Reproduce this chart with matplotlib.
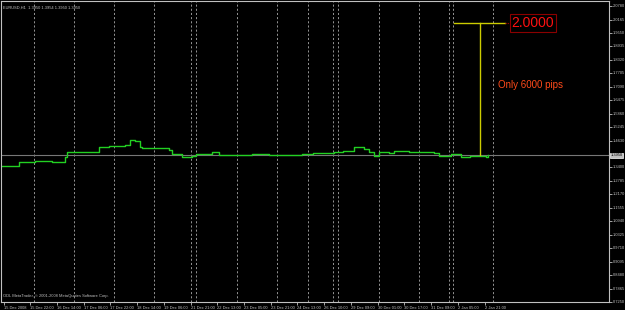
import matplotlib
matplotlib.use('Agg')
import matplotlib.pyplot as plt

# EURUSD H1 closes (bar index, price)
bars = [0, 6, 10, 20, 26, 30, 38, 39, 48, 56, 58, 64, 74, 77, 80, 83, 84, 96, 100,
        102, 108, 114, 116, 126, 130, 140, 150, 160, 180, 186, 199, 204, 211, 217,
        220, 223, 226, 232, 235, 244, 250, 259, 262, 269, 275, 280, 286, 290, 291]
prices = [1.3468, 1.3468, 1.3651, 1.3697, 1.3697, 1.3651, 1.3880, 1.4109, 1.4109,
          1.4109, 1.4337, 1.4383, 1.4429, 1.4658, 1.4612, 1.4337, 1.4292, 1.4292,
          1.4200, 1.4017, 1.3880, 1.3926, 1.4017, 1.4109, 1.3971, 1.3971, 1.4017,
          1.3971, 1.4017, 1.4063, 1.4109, 1.4154, 1.4337, 1.4246, 1.4109, 1.3926,
          1.4109, 1.4063, 1.4154, 1.4109, 1.4109, 1.4063, 1.3926, 1.4017, 1.3880,
          1.3926, 1.3926, 1.3880, 1.3950]

bid = 1.3950
target = 2.0000

day_separators = [19, 43, 67, 91, 113, 116, 141, 165, 183, 198, 201, 226, 250, 268, 270, 294]

time_ticks = [1, 17, 33, 49, 65, 81, 97, 113, 129, 145, 161, 177, 193, 209, 225, 241, 257, 273, 289]
time_labels = ['15 Dec 2008', '15 Dec 22:00', '16 Dec 14:00', '17 Dec 06:00', '17 Dec 22:00',
               '18 Dec 14:00', '19 Dec 06:00', '21 Dec 21:00', '22 Dec 13:00', '23 Dec 05:00',
               '23 Dec 21:00', '24 Dec 13:00', '26 Dec 10:00', '29 Dec 09:00', '30 Dec 01:00',
               '30 Dec 17:00', '31 Dec 09:00', '2 Jan 05:00', '2 Jan 21:00']

price_ticks = [round(0.7250 + 0.0615 * k, 4) for k in range(23)]
price_ticks = [p for p in price_ticks if abs(p - bid) > 0.02]

plt.rcParams['font.family'] = ['Liberation Sans', 'DejaVu Sans']
fg = '#c0c0c0'
small = 2.9

fig = plt.figure(figsize=(6.25, 3.1), dpi=100, facecolor='black')
ax = fig.add_axes([1 / 625, 1 - 302 / 310, 608 / 625, 301 / 310], facecolor='black')
ax.set_xlim(-0.5, 363.5)
ax.set_ylim(0.7250, 2.1012)

for s in ax.spines.values():
    s.set_color(fg)
    s.set_linewidth(0.8)

# day separators
for b in day_separators:
    ax.axvline(b, color='#aaaaaa', lw=0.6, ls=(0, (2.5, 2.5)))

# bid line
ax.axhline(bid, color='#777777', lw=0.8)

# price
ax.plot(bars, prices, color='#22d022', lw=1.0, drawstyle='steps-post')

# target drawing
ax.plot([271, 301], [target, target], color='#cccc00', lw=1)
ax.plot([286, 286], [target, bid], color='#cccc00', lw=1)
ax.plot([301, 304], [target, target], color='#aa0000', lw=0.8, ls=(0, (1, 1)))
ax.text(305, target, '2.0000', color='#ff1010', fontsize=10, va='center', ha='left',
        bbox=dict(boxstyle='square,pad=0.12', fc='black', ec='#8b0000', lw=0.8))
ax.text(297, 1.717, 'Only 6000 pips', color='#ff4a1a', fontsize=7, va='center', ha='left')

# axes ticks
ax.yaxis.tick_right()
ax.set_yticks(price_ticks)
ax.set_yticklabels(['%.4f' % p for p in price_ticks])
ax.set_xticks(time_ticks)
ax.set_xticklabels(time_labels, ha='left')
ax.tick_params(colors=fg, labelsize=small, length=2, width=0.6, pad=0.8)
for lab in ax.get_yticklabels():
    lab.set_va('center')

# current price label
ax.text(1.0025, bid, '%.4f' % bid, transform=ax.get_yaxis_transform(), fontsize=small,
        color='black', va='center', ha='left',
        bbox=dict(boxstyle='square,pad=0.15', fc=fg, ec='white', lw=0.5))

ax.text(0.004, 0.985, 'EURUSD,H1  1.3950 1.3954 1.3950 1.3950', transform=ax.transAxes,
        color=fg, fontsize=small, va='top', ha='left')
ax.text(0.004, 0.012, 'ODL MetaTrader, \u00a9 2001-2008 MetaQuotes Software Corp.',
        transform=ax.transAxes, color=fg, fontsize=small, va='bottom', ha='left')

fig.savefig('out.png', dpi=100, facecolor='black')
